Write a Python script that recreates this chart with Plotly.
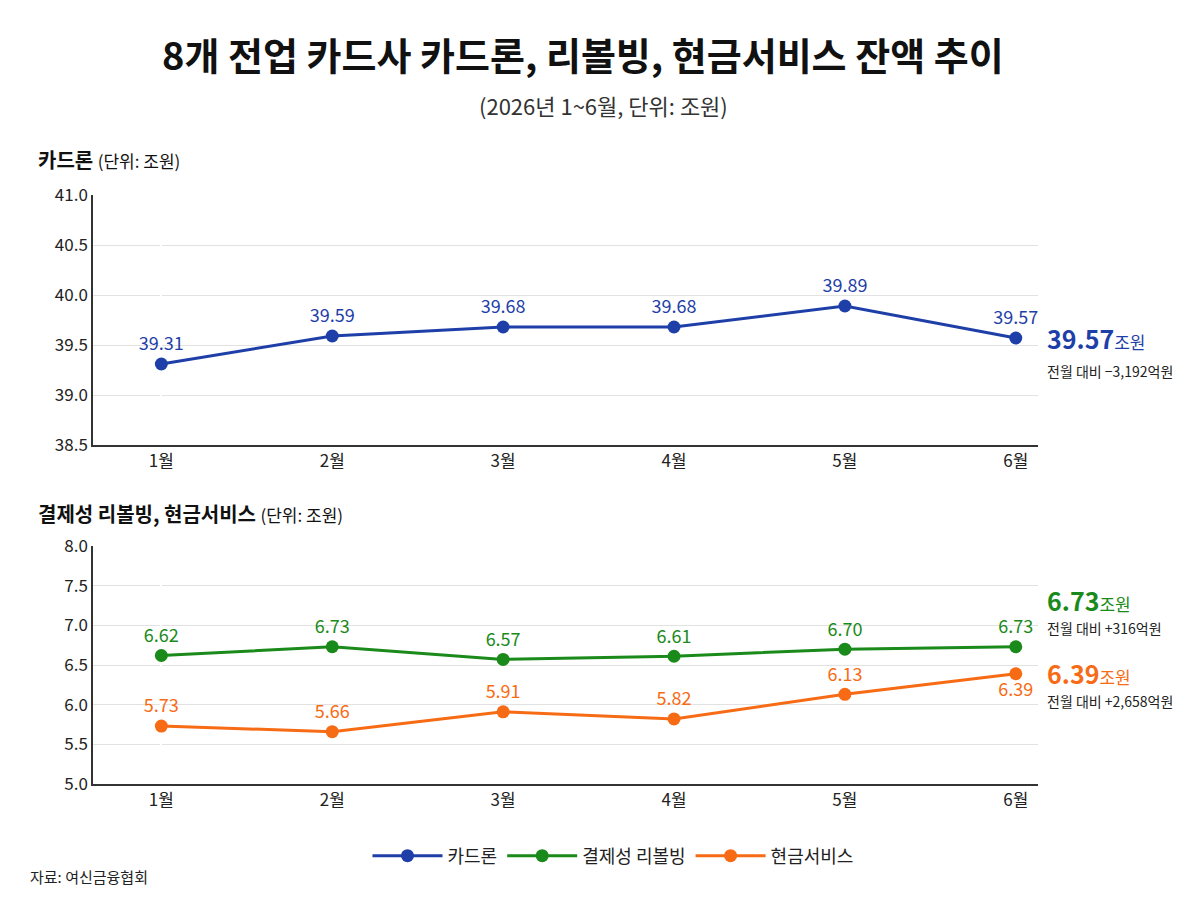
import plotly.graph_objects as go
from plotly.subplots import make_subplots

months = ["1월", "2월", "3월", "4월", "5월", "6월"]
card_loan = [39.31, 39.59, 39.68, 39.68, 39.89, 39.57]
revolving = [6.62, 6.73, 6.57, 6.61, 6.70, 6.73]
cash_service = [5.73, 5.66, 5.91, 5.82, 6.13, 6.39]

BLUE = "#1f3fa8"
GREEN = "#1a8a1a"
ORANGE = "#f76b15"
FONT = "Noto Sans CJK KR"

H = 900
L, R = 85, 1030
W = R - L


def px_x(p):
    return (p - L) / W


def px_y(p):
    return (H - p) / H


fig = make_subplots(rows=2, cols=1)
xs = list(range(len(months)))

fig.add_trace(go.Scatter(
    x=xs, y=card_loan, mode="lines+markers+text", name="카드론",
    line=dict(color=BLUE, width=3), marker=dict(size=13, color=BLUE),
    text=[f"{v:.2f}" for v in card_loan], textposition="top center",
    textfont=dict(color=BLUE, size=18, family=FONT), cliponaxis=False,
), row=1, col=1)

fig.add_trace(go.Scatter(
    x=xs, y=revolving, mode="lines+markers+text", name="결제성 리볼빙",
    line=dict(color=GREEN, width=3), marker=dict(size=13, color=GREEN),
    text=[f"{v:.2f}" for v in revolving], textposition="top center",
    textfont=dict(color=GREEN, size=18, family=FONT), cliponaxis=False,
), row=2, col=1)

fig.add_trace(go.Scatter(
    x=xs, y=cash_service, mode="lines+markers+text", name="현금서비스",
    line=dict(color=ORANGE, width=3), marker=dict(size=13, color=ORANGE),
    text=[f"{v:.2f}" for v in cash_service],
    textposition=["top center"] * 5 + ["bottom center"],
    textfont=dict(color=ORANGE, size=18, family=FONT), cliponaxis=False,
), row=2, col=1)

axis_common = dict(
    showline=True, linecolor="#333", linewidth=1.5, automargin=False,
    ticks="", tickfont=dict(size=17, color="#222", family=FONT),
)
fig.update_xaxes(tickvals=xs, ticktext=months, range=[-0.4, 5.13],
                 showgrid=False, domain=[0, 1], **axis_common)
fig.update_yaxes(showgrid=True, gridcolor="#e2e2e2", tickformat=".1f",
                 zeroline=False, **axis_common)
fig.update_yaxes(range=[38.5, 41.0], dtick=0.5, domain=[px_y(437), px_y(187)], row=1, col=1)
fig.update_yaxes(range=[5.0, 8.0], dtick=0.5, domain=[px_y(776), px_y(538)], row=2, col=1)

ann = []


def add(x, y, text, size, color="#222", xanchor="left"):
    ann.append(dict(x=x, y=y, xref="paper", yref="paper", text=text, showarrow=False,
                    xanchor=xanchor, yanchor="middle",
                    font=dict(size=size, color=color, family=FONT)))


add(px_x(575), px_y(45), "<b>8개 전업 카드사 카드론, 리볼빙, 현금서비스 잔액 추이</b>", 38, "#111", "center")
add(px_x(595), px_y(97), "(2026년 1~6월, 단위: 조원)", 22, "#333", "center")
add(px_x(28), px_y(151), "<b>카드론</b> <span style='font-size:17px'>(단위: 조원)</span>", 20, "#111")
add(px_x(28), px_y(506), "<b>결제성 리볼빙, 현금서비스</b> <span style='font-size:17px'>(단위: 조원)</span>", 20, "#111")
add(px_x(1037), px_y(330), f"<b>{card_loan[-1]:.2f}</b><span style='font-size:17px'>조원</span>", 25, BLUE)
add(px_x(1037), px_y(363), "전월 대비 −3,192억원", 14, "#222")
add(px_x(1037), px_y(592), f"<b>{revolving[-1]:.2f}</b><span style='font-size:17px'>조원</span>", 25, GREEN)
add(px_x(1037), px_y(620), "전월 대비 +316억원", 14, "#222")
add(px_x(1037), px_y(665), f"<b>{cash_service[-1]:.2f}</b><span style='font-size:17px'>조원</span>", 25, ORANGE)
add(px_x(1037), px_y(693), "전월 대비 +2,658억원", 14, "#222")
add(px_x(20), px_y(868), "자료: 여신금융협회", 15, "#222")

fig.update_layout(
    width=1200, height=900,
    margin=dict(l=L, r=1200 - R, t=0, b=0, autoexpand=False),
    paper_bgcolor="white", plot_bgcolor="white",
    font=dict(family=FONT),
    annotations=ann,
    legend=dict(orientation="h", x=px_x(605), y=px_y(848), xanchor="center", yanchor="middle",
                font=dict(size=18, family=FONT, color="#222"), itemwidth=70),
)

fig.write_html("out.html")
